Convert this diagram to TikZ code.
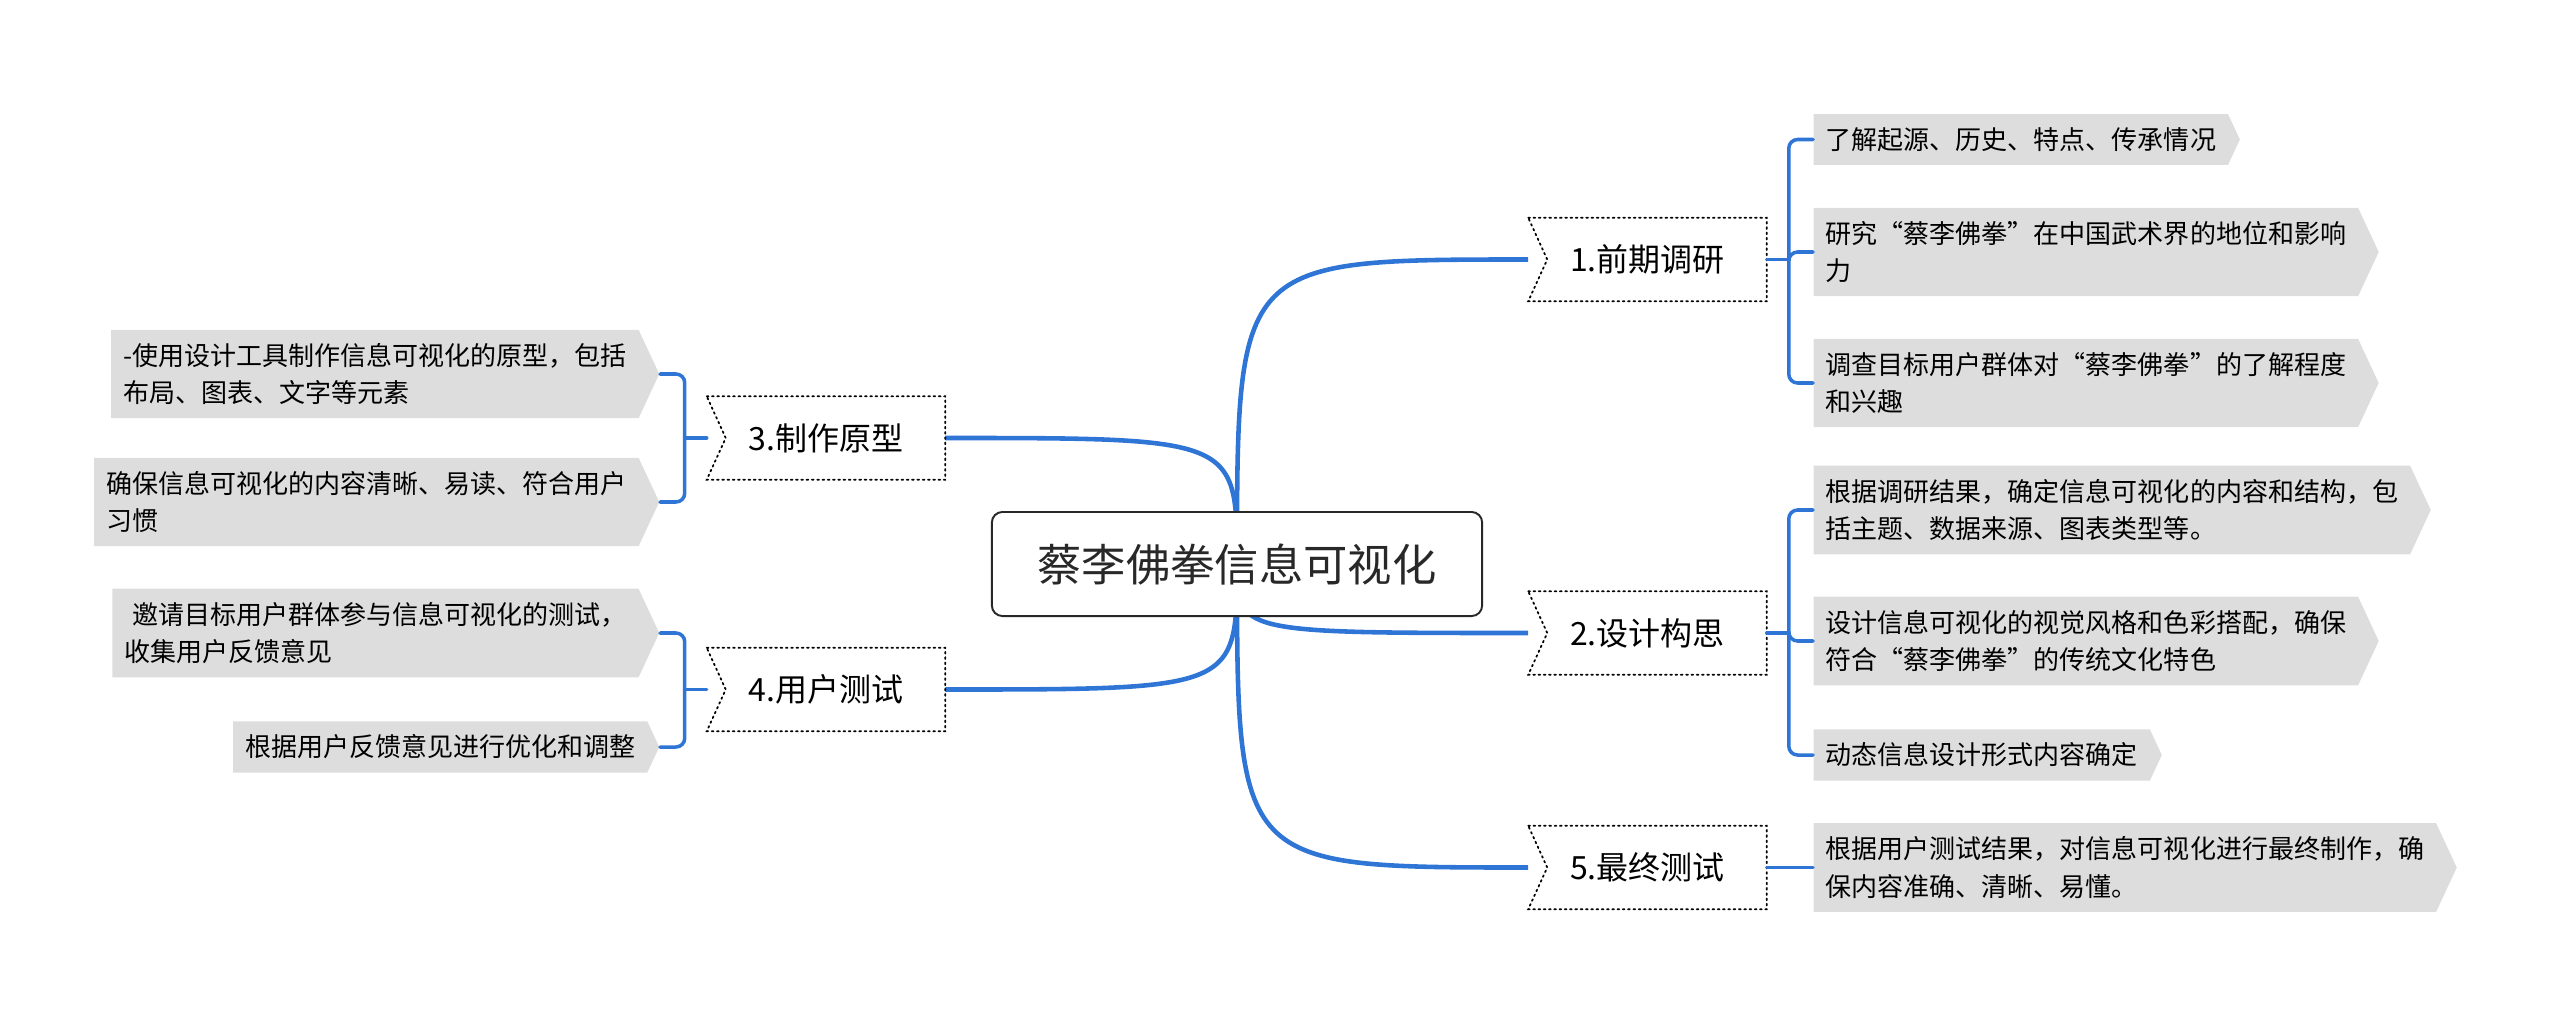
\documentclass[tikz,border=0pt]{standalone}
\usepackage{fontspec}
\setmainfont{Noto Sans CJK SC}
\usetikzlibrary{calc,backgrounds,shapes.symbols}
\definecolor{branchblue}{RGB}{46,117,214}
\definecolor{leafgray}{RGB}{221,221,221}
\definecolor{inkgray}{RGB}{40,40,40}

\tikzset{
  rootbox/.style={draw=inkgray, line width=0.55pt, rounded corners=3pt, fill=white,
    minimum width=4.9cm, minimum height=1.04cm, inner sep=0pt, text=inkgray,
    font=\fontsize{12.6pt}{15pt}\selectfont},
  topic/.style={fill=white, minimum width=2.37cm, minimum height=0.82cm, inner sep=0pt,
    font=\fontsize{9.1pt}{11pt}\selectfont},
  leaf/.style={shape=signal, signal to=east, signal pointer angle=130, fill=leafgray,
    inner xsep=3.4pt, inner ysep=3.8pt, align=left,
    font=\fontsize{7.4pt}{10.67pt}\selectfont},
  trunk/.style={draw=branchblue, line width=1.3pt},
  twig/.style={draw=branchblue, line width=1pt, rounded corners=2.5pt}
}

\begin{document}
\begin{tikzpicture}[x=0.01cm,y=-0.01cm,line cap=round]
\useasboundingbox (0,0) rectangle (2560,1024);
% gap between a topic and its bracket
\def\jog{22}
% ---------- root ----------
\node[rootbox] (root) at (1237,564) {蔡李佛拳信息可视化};
% ---------- topics ----------
\node[topic] (t1) at (1647.5,259.5) {1.前期调研};
\node[topic] (t2) at (1647.5,633) {2.设计构思};
\node[topic] (t5) at (1647.5,867.5) {5.最终测试};
\node[topic] (t3) at (826,438) {3.制作原型};
\node[topic] (t4) at (826,689.5) {4.用户测试};
% dotted outline, notched on the left
\foreach \t in {t1,t2,t3,t4,t5}
  \draw[densely dotted,line width=0.5pt]
    (\t.north west) -- (\t.north east) -- (\t.south east) -- (\t.south west)
    -- ($(\t.west)+(19,0)$) -- cycle;
% ---------- leaves, right side ----------
\node[leaf,anchor=west] (l1a) at (1813,139.5) {了解起源、历史、特点、传承情况};
\node[leaf,anchor=west] (l1b) at (1813,252) {研究“蔡李佛拳”在中国武术界的地位和影响\\力};
\node[leaf,anchor=west] (l1c) at (1813,383) {调查目标用户群体对“蔡李佛拳”的了解程度\\和兴趣};
\node[leaf,anchor=west] (l2a) at (1813,510) {根据调研结果，确定信息可视化的内容和结构，包\\括主题、数据来源、图表类型等。};
\node[leaf,anchor=west] (l2b) at (1813,641) {设计信息可视化的视觉风格和色彩搭配，确保\\符合“蔡李佛拳”的传统文化特色};
\node[leaf,anchor=west] (l2c) at (1813,755) {动态信息设计形式内容确定};
\node[leaf,anchor=west] (l5a) at (1813,867.5) {根据用户测试结果，对信息可视化进行最终制作，确\\保内容准确、清晰、易懂。};
% ---------- leaves, left side ----------
\node[leaf,anchor=east] (l3a) at (660,374) {-使用设计工具制作信息可视化的原型，包括\\布局、图表、文字等元素};
\node[leaf,anchor=east] (l3b) at (660,502) {确保信息可视化的内容清晰、易读、符合用户\\习惯};
\node[leaf,anchor=east] (l4a) at (660,633) {\hspace*{0.3em}邀请目标用户群体参与信息可视化的测试，\\收集用户反馈意见};
\node[leaf,anchor=east] (l4b) at (660,747) {根据用户反馈意见进行优化和调整};
% ---------- trunks from the root ----------
\begin{scope}[on background layer]
\foreach \t in {t1,t2,t5}
  \draw[trunk] (root.center) .. controls (root.center |- \t.west) .. (\t.west);
\foreach \t in {t3,t4}
  \draw[trunk] (root.center) .. controls (root.center |- \t.east) .. (\t.east);
\end{scope}
% ---------- brackets ----------
\draw[twig] (t1.east) -- ++(\jog,0) coordinate (j1);
\foreach \l in {l1a,l1b,l1c} \draw[twig] (j1) |- (\l.west);
\draw[twig] (t2.east) -- ++(\jog,0) coordinate (j2);
\foreach \l in {l2a,l2b,l2c} \draw[twig] (j2) |- (\l.west);
\draw[twig] (t5.east) -- (l5a.west);
\draw[twig] (t3.west) -- ++(-\jog,0) coordinate (j3);
\foreach \l in {l3a,l3b} \draw[twig] (j3) |- (\l.east);
\draw[twig] (t4.west) -- ++(-\jog,0) coordinate (j4);
\foreach \l in {l4a,l4b} \draw[twig] (j4) |- (\l.east);
\end{tikzpicture}
\end{document}
